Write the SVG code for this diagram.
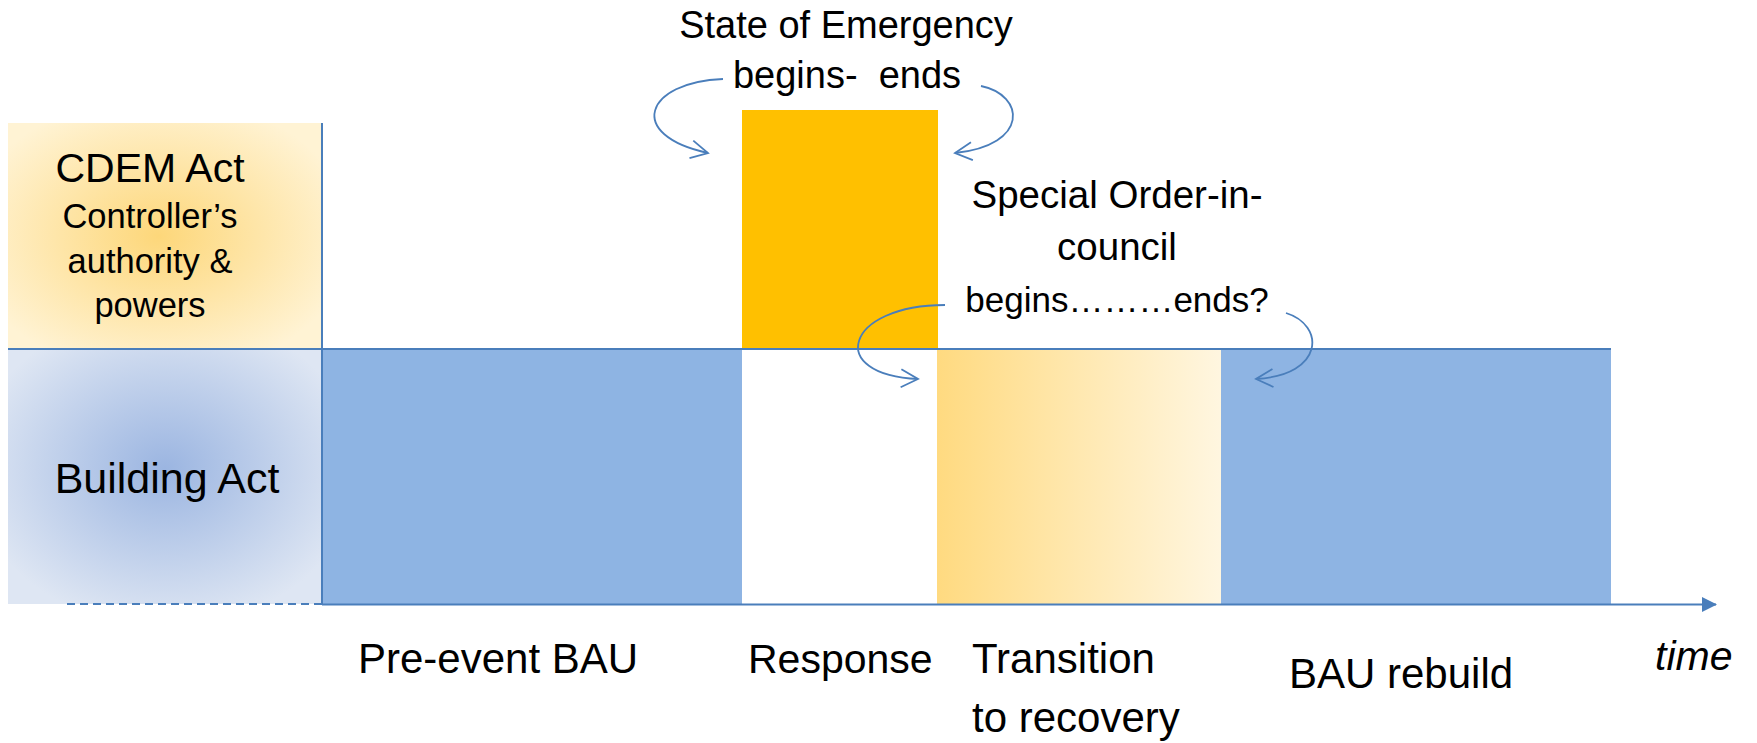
<svg xmlns="http://www.w3.org/2000/svg" width="1757" height="743" viewBox="0 0 1757 743">
<style>
text{font-family:"Liberation Sans",Arial,sans-serif;fill:#000}
.ln{stroke:#4A7EBB;stroke-width:2;fill:none}
.cur{stroke:#4A7EBB;stroke-width:1.8;fill:none;marker-end:url(#chev)}
.bau{fill:#8EB4E3}
</style>
<defs>
<radialGradient id="gy" cx="0.48" cy="0.5" r="0.62">
<stop offset="0" stop-color="#FDD77A"/>
<stop offset="1" stop-color="#FFF3D4"/>
</radialGradient>
<radialGradient id="gb" cx="0.5" cy="0.47" r="0.62">
<stop offset="0" stop-color="#9BB5E1"/>
<stop offset="1" stop-color="#DEE6F3"/>
</radialGradient>
<linearGradient id="gt" x1="0" y1="0" x2="1" y2="0">
<stop offset="0" stop-color="#FFDA80"/>
<stop offset="1" stop-color="#FFF6E0"/>
</linearGradient>
<marker id="chev" markerUnits="userSpaceOnUse" markerWidth="24" markerHeight="24" refX="18" refY="10" orient="auto" viewBox="0 0 24 20">
<path d="M1,1 L18,10 L1,19" fill="none" stroke="#4A7EBB" stroke-width="1.8"/>
</marker>
<marker id="tri" markerUnits="userSpaceOnUse" markerWidth="16" markerHeight="16" refX="14" refY="7.5" orient="auto" viewBox="0 0 16 15">
<path d="M0,0 L15,7.5 L0,15 Z" fill="#4A7EBB"/>
</marker>
</defs>

<g id="cdem-act">
<rect x="8" y="123" width="314" height="226" fill="url(#gy)"/>
<text x="150" y="182" font-size="41" text-anchor="middle">CDEM Act</text>
<text x="150" y="228" font-size="34.5" text-anchor="middle">Controller’s</text>
<text x="150" y="273" font-size="34.5" text-anchor="middle">authority &amp;</text>
<text x="150" y="317" font-size="34.5" text-anchor="middle">powers</text>
</g>

<g id="building-act">
<rect x="8" y="349" width="314" height="255" fill="url(#gb)"/>
<text x="167" y="493" font-size="43" text-anchor="middle">Building Act</text>
</g>

<g id="pre-event-bau">
<rect class="bau" x="322" y="349" width="420" height="255"/>
<text x="358" y="673" font-size="42">Pre-event BAU</text>
</g>

<g id="response">
<rect x="742" y="349" width="195" height="255" fill="#FFFFFF"/>
<text x="748" y="673" font-size="41">Response</text>
</g>

<g id="state-of-emergency">
<rect x="742" y="110" width="196" height="239" fill="#FFC000"/>
<text x="846" y="38" font-size="38" text-anchor="middle">State of Emergency</text>
<text x="847" y="88" font-size="38" text-anchor="middle" xml:space="preserve">begins-  ends</text>
</g>

<g id="transition">
<rect x="937" y="349" width="284" height="255" fill="url(#gt)"/>
<text x="972" y="673" font-size="42">Transition</text>
<text x="972" y="732" font-size="42">to recovery</text>
</g>

<g id="bau-rebuild">
<rect class="bau" x="1221" y="349" width="390" height="255"/>
<text x="1289" y="688" font-size="42">BAU rebuild</text>
</g>

<g id="special-order">
<text x="1117" y="208" font-size="38.5" text-anchor="middle">Special Order-in-</text>
<text x="1117" y="260" font-size="38.5" text-anchor="middle">council</text>
<text x="1117" y="312" font-size="35" text-anchor="middle">begins………ends?</text>
</g>

<g id="time-label">
<text x="1655" y="670" font-size="41" font-style="italic">time</text>
</g>

<g id="connectors">
<line class="ln" x1="322" y1="123" x2="322" y2="605"/>
<line class="ln" x1="8" y1="349" x2="1611" y2="349"/>
<line class="ln" x1="67" y1="604" x2="322" y2="604" stroke-dasharray="8,5"/>
<line class="ln" x1="322" y1="604.5" x2="1716" y2="604.5" marker-end="url(#tri)"/>
<path class="cur" d="M723,79 C645,82 625,135 708,153"/>
<path class="cur" d="M981,86 C1025,95 1030,145 955,153"/>
<path class="cur" d="M945,305 C845,305 825,375 918,379"/>
<path class="cur" d="M1286,313 C1325,325 1325,375 1256,379"/>
</g>
</svg>
